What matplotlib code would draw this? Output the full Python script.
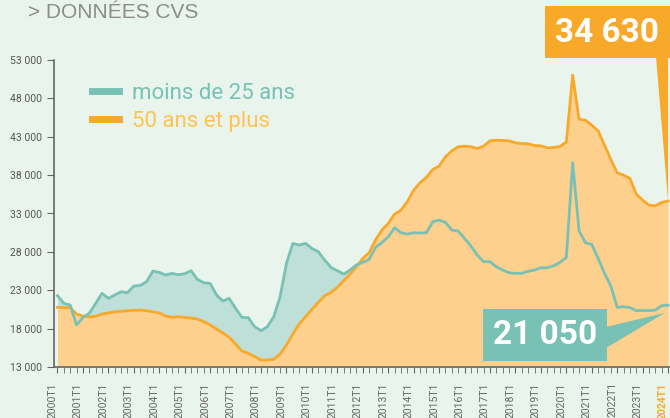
import matplotlib
matplotlib.use("Agg")
import matplotlib.pyplot as plt
from matplotlib.lines import Line2D
from matplotlib.patches import Polygon, Rectangle
import numpy as np

# quarterly, 2000T1 .. 2024T1 (CVS)
moins_25 = [22290, 21290, 21070, 18470, 19470, 19990, 21290, 22590, 21940, 22380,
            22810, 22680, 23550, 23630, 24110, 25500, 25330, 24980, 25200, 25020,
            25150, 25540, 24410, 23980, 23890, 22380, 21590, 21940, 20640, 19470,
            19420, 18250, 17730, 18250, 19550, 22160, 26500, 29100, 28890, 29100,
            28450, 28020, 26930, 25980, 25540, 25110, 25630, 26300, 26630, 27020,
            28580, 29190, 29970, 31140, 30490, 30320, 30490, 30450, 30490, 31920,
            32140, 31840, 30840, 30710, 29750, 28760, 27580, 26720, 26720, 26060,
            25630, 25280, 25200, 25200, 25460, 25630, 25930, 25930, 26190, 26630,
            27280, 39610, 30750, 29190, 28970, 27150, 25200, 23550, 20770, 20860,
            20730, 20340, 20380, 20340, 20420, 20990, 21050]
plus_50 = [20770, 20730, 20730, 19900, 19640, 19550, 19600, 19900, 20030, 20200,
           20250, 20330, 20380, 20420, 20330, 20200, 20030, 19640, 19470, 19550,
           19470, 19380, 19250, 18900, 18500, 17950, 17430, 16860, 15990, 15080,
           14780, 14350, 13910, 13910, 14000, 14690, 15860, 17300, 18600, 19550,
           20510, 21420, 22290, 22720, 23370, 24240, 25110, 26060, 27150, 27890,
           29540, 30840, 31710, 32920, 33440, 34530, 36050, 37000, 37700, 38740,
           39170, 40390, 41170, 41690, 41780, 41690, 41470, 41780, 42470, 42560,
           42510, 42470, 42210, 42120, 42080, 41860, 41820, 41560, 41600, 41730,
           42300, 51020, 45290, 45160, 44510, 43770, 41910, 40040, 38300, 38000,
           37570, 35530, 34740, 34090, 34010, 34440, 34630]
years = list(range(2000, 2025))
quarters = [f"{y}T{q}" for y in years for q in range(1, 5)][:len(moins_25)]
yticks = [13000, 18000, 23000, 28000, 33000, 38000, 43000, 48000, 53000]

bg = "#e9f4ed"
teal = "#79c1b5"
teal_fill = "#bfe0d9"
orange = "#f9a92a"
orange_fill = "#fdd08e"
grey = "#666666"

fig = plt.figure(figsize=(6.7, 4.18), dpi=100, facecolor=bg)
ax = fig.add_axes([54 / 670, 51 / 418, 616 / 670, 307 / 418], facecolor=bg)

x = np.arange(len(quarters))
ax.fill_between(x, moins_25, 13000, color=teal_fill, lw=0, zorder=1)
ax.fill_between(x, plus_50, 13000, color=orange_fill, lw=0, zorder=2)
ax.plot(x, plus_50, color=orange, lw=2, zorder=3)
ax.plot(x, moins_25, color=teal, lw=2, zorder=4)

ax.set_xlim(-0.55, len(quarters) - 1 + 0.3)
ax.set_ylim(13000, 53000)

for s in ["top", "right"]:
    ax.spines[s].set_visible(False)
ax.spines["left"].set_color(grey)
ax.spines["left"].set_linewidth(1.2)
ax.spines["bottom"].set_color(grey)
ax.spines["bottom"].set_linewidth(1.2)

ax.set_yticks(yticks)
ax.set_yticklabels([f"{v // 1000} 000" for v in yticks], family="Roboto",
                   fontsize=7.5, color="#555555")
ax.tick_params(axis="y", length=5, color=grey, pad=4)

ax.set_xticks(x, minor=True)
ax.set_xticks(x[::4])
lbls = ax.set_xticklabels(quarters[::4], rotation=90, ha="right", family="Roboto",
                          fontsize=7.5, color="#666666")
lbls[-1].set_color(orange)
lbls[-1].set_fontweight("bold")
ax.tick_params(axis="x", which="both", length=4, color=grey, pad=7)

# title
fig.text(28 / 670, 1 - 13 / 418, "> DONNÉES CVS", family="Liberation Sans",
         fontsize=15, color="#8c8c8c", va="center", ha="left")

# legend
handles = [Line2D([], [], color=teal, lw=5), Line2D([], [], color=orange, lw=5)]
leg = ax.legend(handles, ["moins de 25 ans", "50 ans et plus"], frameon=False,
                loc="upper left", bbox_to_anchor=(0.03, 0.99), handlelength=1.2,
                handletextpad=0.6, labelspacing=0.3,
                prop={"family": "Roboto", "size": 16},
                labelcolor=[teal, "#fdc452"])

# callouts
fig.canvas.draw()
to_fig = fig.transFigure.inverted()


def fpt(px, py):
    return (px / 670, 1 - py / 418)


tip_o = to_fig.transform(ax.transData.transform((x[-1], plus_50[-1])))
fig.patches.append(Polygon([fpt(656, 57), fpt(668, 57), tip_o], closed=True,
                           transform=fig.transFigure, color=orange, lw=0, zorder=5))
fig.patches.append(Rectangle(fpt(545, 58), 125 / 670, 52 / 418,
                             transform=fig.transFigure, color=orange, lw=0, zorder=5))
fig.text(607 / 670, 1 - 33 / 418, "34 630", family="Roboto", fontweight="bold",
         fontsize=24, color="white", ha="center", va="center", zorder=6)

tip_t = to_fig.transform(ax.transData.transform((x[-1] - 0.5, moins_25[-1] - 1000)))
fig.patches.append(Polygon([fpt(606, 327), fpt(606, 348), tip_t], closed=True,
                           transform=fig.transFigure, color=teal, lw=0, zorder=5))
fig.patches.append(Rectangle(fpt(483, 361), 124 / 670, 52 / 418,
                             transform=fig.transFigure, color=teal, lw=0, zorder=5))
fig.text(545 / 670, 1 - 335 / 418, "21 050", family="Roboto", fontweight="bold",
         fontsize=24, color="white", ha="center", va="center", zorder=6)

fig.savefig("out.png", dpi=100, facecolor=bg)
